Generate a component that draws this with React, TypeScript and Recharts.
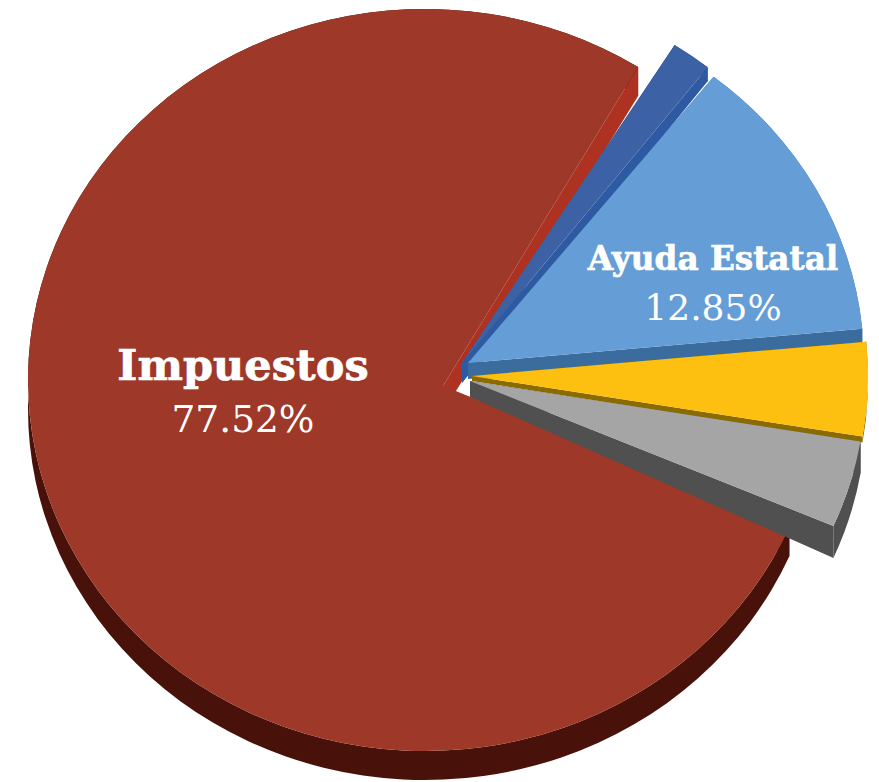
import { PieChart, Pie } from "recharts";

const names = ["Impuestos", "Donaciones", "Ayuda Estatal", "Tarifas", "Otros"];
const shares = [77.52, 1.63, 12.85, 4.15, 3.85];
const data = names.map((name, i) => ({ name, value: shares[i] }));

const RAD = Math.PI / 180;

// top colour, cut-wall colour, outer-wall colour, offset from the pie centre,
// ellipse radii, apex shift and wall height (at apex / at rim)
const LOOK: Record<string, any> = {
  Impuestos: { top: "#9e3828", cut: "#ae3222", rim: "#48120a", dx: -18, dy: 0, rx: 397, ry: 371, apexDx: 18, apexDy: 6, dA: 26, dR: 29 },
  Donaciones: { top: "#3c62a5", cut: "#2d5aa3", rim: "#2d4f90", dx: 19, dy: -17, rx: 396, ry: 377, apexDx: 0, apexDy: 0, dA: 20, dR: 14 },
  "Ayuda Estatal": { top: "#659dd6", cut: "#3a6d9e", rim: "#3a6d9e", dx: 25, dy: -17, rx: 396, ry: 365, apexDx: 0, apexDy: 0, dA: 16, dR: 16 },
  Tarifas: { top: "#fdc010", cut: "#8a6b00", rim: "#8a6b00", dx: 29, dy: -4, rx: 396, ry: 365, apexDx: 0, apexDy: 0, dA: 5, dR: 6 },
  Otros: { top: "#a5a5a5", cut: "#505050", rim: "#505050", dx: 27, dy: 1, rx: 396, ry: 365, apexDx: 0, apexDy: 0, dA: 16, dR: 32 },
};

function ExplodedSlice(props: any) {
  const { cx, cy, name, startAngle, endAngle } = props;
  const s = LOOK[name];
  const x0 = cx + s.dx;
  const y0 = cy + s.dy;
  const ax = x0 + s.apexDx;
  const ay = y0 + s.apexDy;
  const px = (a: number) => x0 + s.rx * Math.cos(a * RAD);
  const py = (a: number) => y0 - s.ry * Math.sin(a * RAD);
  const large = Math.abs(endAngle - startAngle) > 180 ? 1 : 0;
  const sweep = endAngle < startAngle ? 1 : 0;
  const arc = (d: number) =>
    `A${s.rx},${s.ry} 0 ${large} ${sweep} ${px(endAngle)},${py(endAngle) + d}`;
  const back = `A${s.rx},${s.ry} 0 ${large} ${1 - sweep} ${px(startAngle)},${py(startAngle) + s.dR}`;
  const top = `M${ax},${ay} L${px(startAngle)},${py(startAngle)} ${arc(0)} Z`;
  const rim = `M${px(startAngle)},${py(startAngle)} ${arc(0)} L${px(endAngle)},${py(endAngle) + s.dR} ${back} Z`;
  const wall = (a: number) =>
    `M${ax},${ay} L${px(a)},${py(a)} L${px(a)},${py(a) + s.dR} L${ax},${ay + s.dA} Z`;
  return (
    <g>
      <path d={wall(startAngle)} fill={s.cut} />
      <path d={rim} fill={s.rim} />
      <path d={wall(endAngle)} fill={s.cut} />
      <path d={top} fill={s.top} />
    </g>
  );
}

// label anchors relative to the pie centre, only two slices carry one
const LABEL_AT: Record<string, any> = {
  Impuestos: { dx: -200, dy: 0, size: 43, valueSize: 37.5, gap: 52 },
  "Ayuda Estatal": { dx: 270, dy: -110, size: 32.7, valueSize: 36, gap: 50 },
};

function SliceLabel(props: any) {
  const { cx, cy, name, value } = props;
  const at = LABEL_AT[name];
  if (!at) return null;
  return (
    <g fill="#ffffff" textAnchor="middle" fontFamily="'DejaVu Serif', serif">
      <text x={cx + at.dx} y={cy + at.dy} fontSize={at.size} fontWeight={700} stroke="#ffffff" strokeWidth={0.7}>
        {name}
      </text>
      <text x={cx + at.dx} y={cy + at.dy + at.gap} fontSize={at.valueSize} fontWeight={400}>
        {value.toFixed(2)}%
      </text>
    </g>
  );
}

export default function App() {
  return (
    <div style={{ position: "absolute", left: 0, top: 0, width: 879, height: 782, background: "#fff" }}>
      <PieChart width={879} height={782} margin={{ top: 0, right: 0, bottom: 0, left: 0 }}>
        <Pie
          data={data}
          dataKey="value"
          nameKey="name"
          cx={443}
          cy={380}
          innerRadius={0}
          outerRadius={372}
          startAngle={-23.4}
          endAngle={-383.4}
          stroke="none"
          shape={ExplodedSlice}
          label={SliceLabel}
          labelLine={false}
          isAnimationActive={false}
        />
      </PieChart>
    </div>
  );
}
